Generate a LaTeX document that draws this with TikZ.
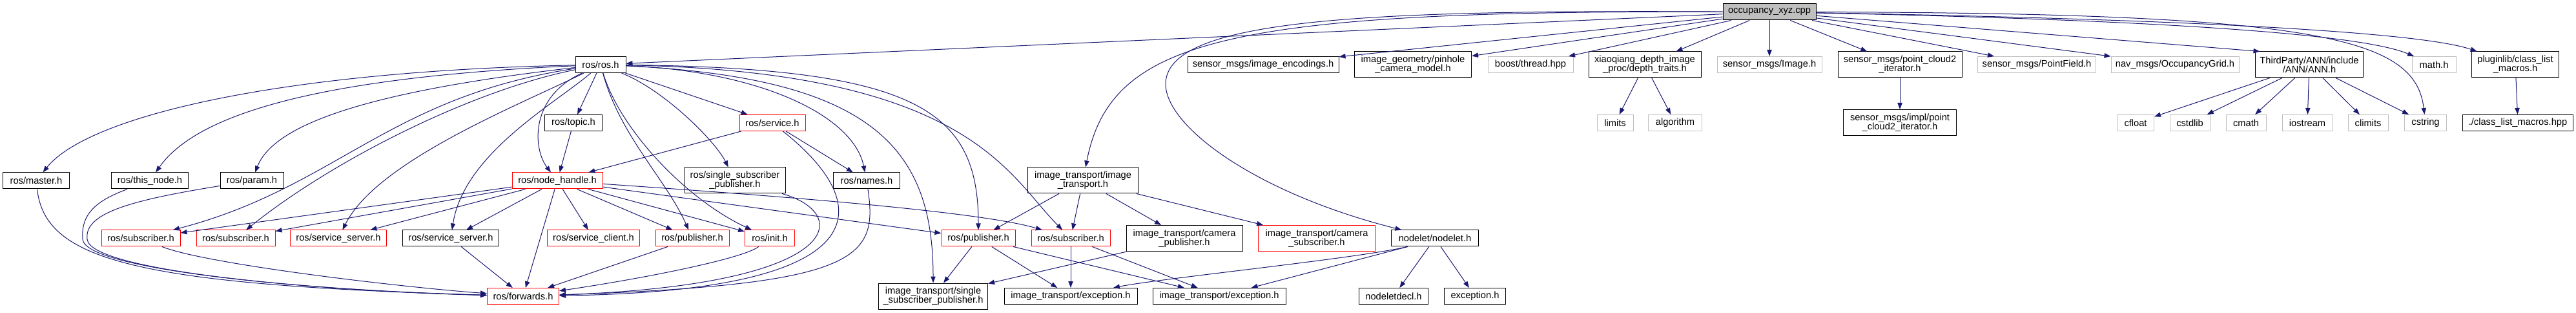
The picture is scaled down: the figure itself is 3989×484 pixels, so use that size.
\documentclass[tikz,border=0pt]{standalone}
\usepackage{fontspec}
\setmainfont{Liberation Sans}
\usepackage{xcolor}
\usepackage{tikz}
\usetikzlibrary{arrows.meta}
\definecolor{edgeblue}{RGB}{25,25,112}
\definecolor{sysline}{RGB}{191,191,191}
\definecolor{rootfill}{RGB}{191,191,191}

\begin{document}
\begin{tikzpicture}[x=0.75pt, y=-0.75pt,
    hdr/.style={rectangle, draw=black, line width=0.75pt, minimum height=18.75pt,
                inner xsep=2pt, inner ysep=1pt, align=center,
                font=\fontsize{11}{10.5}\selectfont},
    hdrred/.style={hdr, draw=red},
    hdrsys/.style={hdr, draw=sysline},
    src/.style={hdr, fill=rootfill},
    tall/.style={minimum height=30pt},
    wd/.style={minimum width=#1*0.75pt},
    inc/.style={draw=edgeblue, line width=0.75pt,
                -{Triangle[length=7.5pt, width=5.5pt]}}
  ]
  \useasboundingbox (0,0) rectangle (3989,484);

  % root file
  \node[src, wd=144] at (2740,18.5) (occ) {occupancy\_xyz.cpp};

  % first level
  \node[hdr, wd=78] at (930,100) (ros) {ros/ros.h};
  \node[hdr, wd=234] at (1956,100) (enc) {sensor\_msgs/image\_encodings.h};
  \node[hdr, tall, wd=181] at (2188,100) (pin) {image\_geometry/pinhole\\\_camera\_model.h};
  \node[hdrsys, wd=132] at (2370,100) (thr) {boost/thread.hpp};
  \node[hdr, tall, wd=174] at (2547,100) (xq) {xiaoqiang\_depth\_image\\\_proc/depth\_traits.h};
  \node[hdrsys, wd=162] at (2740,100) (img) {sensor\_msgs/Image.h};
  \node[hdr, tall, wd=192] at (2942,100) (pc2) {sensor\_msgs/point\_cloud2\\\_iterator.h};
  \node[hdrsys, wd=183] at (3154,100) (pf) {sensor\_msgs/PointField.h};
  \node[hdrsys, wd=198] at (3368,100) (og) {nav\_msgs/OccupancyGrid.h};
  \node[hdr, tall, wd=167] at (3576,100) (ann) {ThirdParty/ANN/include\\/ANN/ANN.h};
  \node[hdrsys, wd=68] at (3769,100) (mth) {math.h};
  \node[hdr, tall, wd=135] at (3895,100) (plg) {pluginlib/class\_list\\\_macros.h};

  % second level
  \node[hdr, wd=89] at (888,190) (topic) {ros/topic.h};
  \node[hdrred, wd=102] at (1196,190) (srv) {ros/service.h};
  \node[hdrsys, wd=56] at (2501,190) (lim) {limits};
  \node[hdrsys, wd=83] at (2594,190) (alg) {algorithm};
  \node[hdr, tall, wd=175] at (2942,189.5) (impl) {sensor\_msgs/impl/point\\\_cloud2\_iterator.h};
  \node[hdrsys, wd=57] at (3307,190) (cfl) {cfloat};
  \node[hdrsys, wd=62] at (3391,190) (csl) {cstdlib};
  \node[hdrsys, wd=62] at (3478,190) (cmt) {cmath};
  \node[hdrsys, wd=78] at (3573,190) (ios) {iostream};
  \node[hdrsys, wd=62] at (3667,190) (clm) {climits};
  \node[hdrsys, wd=65] at (3756,190) (cst) {cstring};
  \node[hdr, wd=171] at (3899,190) (clh) {./class\_list\_macros.hpp};

  % third level
  \node[hdr, wd=103] at (56,279.5) (mas) {ros/master.h};
  \node[hdr, wd=119] at (232,279.5) (thn) {ros/this\_node.h};
  \node[hdr, wd=98] at (390,279.5) (par) {ros/param.h};
  \node[hdrred, wd=140] at (863,279.5) (nh) {ros/node\_handle.h};
  \node[hdr, tall, wd=156] at (1138,279) (ssp) {ros/single\_subscriber\\\_publisher.h};
  \node[hdr, wd=103] at (1342,279.5) (nam) {ros/names.h};
  \node[hdr, tall, wd=171] at (1677,279) (itr) {image\_transport/image\\\_transport.h};

  % fourth level
  \node[hdrred, wd=122] at (218,368.5) (sub1) {ros/subscriber.h};
  \node[hdrred, wd=122] at (365,368.5) (sub2) {ros/subscriber.h};
  \node[hdrred, wd=149] at (524,368.5) (ssr) {ros/service\_server.h};
  \node[hdr, wd=149] at (698,368.5) (ssb) {ros/service\_server.h};
  \node[hdrred, wd=143] at (919,368.5) (scl) {ros/service\_client.h};
  \node[hdrred, wd=114] at (1072,368.5) (pub1) {ros/publisher.h};
  \node[hdrred, wd=77] at (1192,368.5) (ini) {ros/init.h};
  \node[hdrred, wd=114] at (1515,368.5) (pub2) {ros/publisher.h};
  \node[hdrred, wd=122] at (1658,368.5) (sub3) {ros/subscriber.h};
  \node[hdr, tall, wd=180] at (1834,368.5) (cpb) {image\_transport/camera\\\_publisher.h};
  \node[hdrred, tall, wd=181] at (2039,368.5) (csb) {image\_transport/camera\\\_subscriber.h};
  \node[hdr, wd=135] at (2222,368.5) (nod) {nodelet/nodelet.h};

  % bottom level
  \node[hdrred, wd=111] at (810,458) (fwd) {ros/forwards.h};
  \node[hdr, tall, wd=169] at (1445,458) (iss) {image\_transport/single\\\_subscriber\_publisher.h};
  \node[hdr, wd=206] at (1658,458) (ex1) {image\_transport/exception.h};
  \node[hdr, wd=206] at (1888,458) (ex2) {image\_transport/exception.h};
  \node[hdr, wd=107] at (2158,458) (ndc) {nodeletdecl.h};
  \node[hdr, wd=95] at (2284,458) (exc) {exception.h};

  % includes of the root file
  \draw[inc] (occ) -- (ros);
  \draw[inc] (occ) .. controls (1900,16) and (1720,60) .. (itr);
  \draw[inc] (occ) .. controls (2100,15) and (1800,30) .. (1805,133)
                   .. controls (1810,200) and (1950,300) .. (nod);
  \foreach \dst in {enc,pin,thr,xq,img,pc2,pf,og}
    \draw[inc] (occ) -- (\dst);
  \draw[inc] (occ) -- (ann.165);
  \draw[inc] (occ) .. controls (3300,30) and (3650,50) .. (mth);
  \draw[inc] (occ) .. controls (3400,30) and (3750,50) .. (plg);
  \draw[inc] (occ) .. controls (3600,20) and (3740,60) .. (cst);

  % right hand side
  \draw[inc] (xq) -- (lim);
  \draw[inc] (xq) -- (alg);
  \draw[inc] (pc2) -- (impl);
  \foreach \dst in {cfl,csl,cmt,ios,clm,cst}
    \draw[inc] (ann) -- (\dst);
  \draw[inc] (plg) -- (clh);

  % ros/ros.h
  \draw[inc] (ros) .. controls (430,110) and (136,180) .. (mas);
  \draw[inc] (ros) .. controls (480,120) and (302,180) .. (thn);
  \draw[inc] (ros) .. controls (580,140) and (425,190) .. (par);
  \draw[inc] (ros) .. controls (600,150) and (520,290) .. (sub1);
  \draw[inc] (ros) .. controls (730,140) and (515,248) .. (sub2);
  \draw[inc] (ros) .. controls (810,160) and (584,248) .. (ssr);
  \draw[inc] (ros) .. controls (860,160) and (718,238) .. (ssb);
  \draw[inc] (ros) .. controls (820,150) and (825,230) .. (nh);
  \draw[inc] (ros) -- (topic);
  \draw[inc] (ros) .. controls (960,210) and (1032,278) .. (pub1);
  \draw[inc] (ros) .. controls (960,200) and (1062,308) .. (ini);
  \draw[inc] (ros) -- (srv);
  \draw[inc] (ros) .. controls (1030,140) and (1108,219) .. (ssp);
  \draw[inc] (ros) .. controls (1180,110) and (1322,180) .. (nam);
  \draw[inc] (ros) .. controls (1350,120) and (1445,228) .. (iss);
  \draw[inc] (ros) .. controls (1420,105) and (1515,170) .. (pub2);
  \draw[inc] (ros) .. controls (1500,110) and (1560,270) .. (sub3);

  \draw[inc] (topic) -- (nh);
  \draw[inc] (srv) -- (nh);
  \draw[inc] (srv) -- (nam);

  % ros/node_handle.h
  \foreach \dst in {sub1,sub2,ssr,ssb,scl,pub1,ini,pub2,fwd}
    \draw[inc] (nh) -- (\dst);
  \draw[inc] (nh) .. controls (1160,300) and (1510,325) .. (sub3);

  % into ros/forwards.h
  \draw[inc] (mas) .. controls (70,400) and (200,440) .. (fwd);
  \draw[inc] (thn) .. controls (150,310) and (125,330) .. (128,370)
                   .. controls (131,415) and (450,448) .. (fwd);
  \draw[inc] (par) .. controls (200,310) and (130,330) .. (135,370)
                   .. controls (140,420) and (500,450) .. (fwd);
  \draw[inc] (sub1) .. controls (318,408) and (610,443) .. (fwd);
  \draw[inc] (ssb) -- (fwd);
  \draw[inc] (pub1) -- (fwd);
  \draw[inc] (ini) .. controls (1150,400) and (1000,430) .. (fwd);
  \draw[inc] (srv) .. controls (1360,320) and (1360,450) .. (fwd);
  \draw[inc] (ssp) .. controls (1320,330) and (1310,440) .. (fwd);
  \draw[inc] (nam) .. controls (1360,400) and (1330,440) .. (fwd);

  % image_transport
  \foreach \dst in {pub2,sub3,cpb,csb}
    \draw[inc] (itr) -- (\dst);
  \foreach \dst in {iss,ex1,ex2}
    \draw[inc] (pub2) -- (\dst);
  \draw[inc] (sub3) -- (ex1);
  \draw[inc] (sub3) -- (ex2);
  \draw[inc] (cpb) -- (iss);

  % nodelet
  \draw[inc] (nod.197) .. controls (2100,400) and (1800,430) .. (ex1);
  \draw[inc] (nod.197) -- (ex2);
  \draw[inc] (nod) -- (ndc);
  \draw[inc] (nod) -- (exc);
\end{tikzpicture}
\end{document}
